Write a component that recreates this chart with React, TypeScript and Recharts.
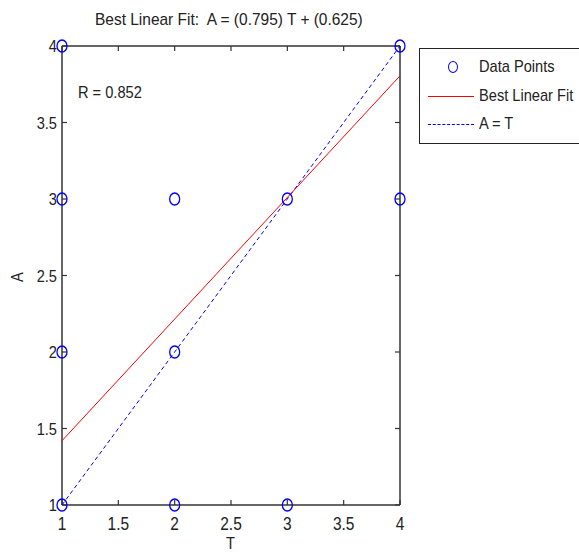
import { ComposedChart, Scatter, XAxis, YAxis } from "recharts";

const tTicks = [1, 1.5, 2, 2.5, 3, 3.5, 4];
const aTicks = [1, 1.5, 2, 2.5, 3, 3.5, 4];

// targets (T) and outputs (A)
const pointT = [1, 4, 1, 2, 3, 4, 1, 2, 1, 2, 3];
const pointA = [4, 4, 3, 3, 3, 3, 2, 2, 1, 1, 1];

const fitT = [1, 4];
const fitA = [1.42, 3.805];

const idT = [1, 4];
const idA = [1, 4];

const points = pointT.map((t, i) => ({ T: t, A: pointA[i] }));
const fit = fitT.map((t, i) => ({ T: t, A: fitA[i] }));
const ident = idT.map((t, i) => ({ T: t, A: idA[i] }));

// tick anchors on the four sides of the box
const bottomMarks = tTicks.map((t) => ({ T: t, A: aTicks[0] }));
const topMarks = tTicks.map((t) => ({ T: t, A: aTicks[aTicks.length - 1] }));
const leftMarks = aTicks.map((a) => ({ T: tTicks[0], A: a }));
const rightMarks = aTicks.map((a) => ({ T: tTicks[tTicks.length - 1], A: a }));

const FONT = '"Liberation Sans", Arial, sans-serif';
const AXIS = "#333";
const INK = "#222";
const SX = 0.86;
const TICK = 5;

const Ring = (props: any) => {
  const { cx, cy } = props;
  return <ellipse cx={cx} cy={cy} rx={5} ry={6} fill="none" stroke="#0000ff" strokeWidth={1.3} />;
};
const Nothing = () => null;

// inward tick marks, MATLAB style
const mark = (dx: number, dy: number) => (props: any) => {
  const { cx, cy } = props;
  return <line x1={cx} y1={cy} x2={cx + dx} y2={cy + dy} stroke={AXIS} strokeWidth={1.2} />;
};
const UpMark = mark(0, -TICK);
const DownMark = mark(0, TICK);
const RightMark = mark(TICK, 0);
const LeftMark = mark(-TICK, 0);

const BottomTick = (props: any) => {
  const { x, y, payload } = props;
  return (
    <text transform={`translate(${x},${y}) scale(${SX},1)`} textAnchor="middle" dy="0.72em"
      fontSize={18} fill={INK} fontFamily={FONT}>
      {payload.value}
    </text>
  );
};
const LeftTick = (props: any) => {
  const { x, y, payload } = props;
  return (
    <text transform={`translate(${x},${y}) scale(${SX},1)`} textAnchor="end" dy="0.36em"
      fontSize={17} fill={INK} fontFamily={FONT}>
      {payload.value}
    </text>
  );
};

const txt = (extra: any, sx = SX) => ({
  position: "absolute" as const,
  fontSize: 17,
  whiteSpace: "pre" as const,
  transformOrigin: "left center",
  transform: `scaleX(${sx})`,
  ...extra,
});

export default function App() {
  return (
    <div style={{ position: "absolute", left: 0, top: 0, width: 579, height: 553, overflow: "hidden", background: "#fff", fontFamily: FONT, color: INK, lineHeight: "20px" }}>
      <ComposedChart width={579} height={553} margin={{ top: 45, right: 178, bottom: 18, left: 12 }}>
        <XAxis xAxisId="b" type="number" dataKey="T" domain={[1, 4]} ticks={tTicks} interval={0}
          height={30} tickSize={0} tickLine={false} tickMargin={12} stroke={AXIS} strokeWidth={1.5} tick={<BottomTick />} />
        <XAxis xAxisId="t" type="number" dataKey="T" orientation="top" domain={[1, 4]} ticks={tTicks} interval={0}
          height={1} tickLine={false} tick={false} stroke={AXIS} strokeWidth={1.5} />
        <YAxis yAxisId="l" type="number" dataKey="A" domain={[1, 4]} ticks={aTicks} interval={0}
          width={50} tickSize={0} tickLine={false} tickMargin={5} stroke={AXIS} strokeWidth={1.5} tick={<LeftTick />} />
        <YAxis yAxisId="r" type="number" dataKey="A" orientation="right" domain={[1, 4]} ticks={aTicks} interval={0}
          width={1} tickLine={false} tick={false} stroke={AXIS} strokeWidth={1.5} />
        <Scatter xAxisId="b" yAxisId="l" data={bottomMarks} shape={UpMark} isAnimationActive={false} />
        <Scatter xAxisId="b" yAxisId="l" data={topMarks} shape={DownMark} isAnimationActive={false} />
        <Scatter xAxisId="b" yAxisId="l" data={leftMarks} shape={RightMark} isAnimationActive={false} />
        <Scatter xAxisId="b" yAxisId="l" data={rightMarks} shape={LeftMark} isAnimationActive={false} />
        <Scatter xAxisId="b" yAxisId="l" data={ident} line={{ stroke: "#0000ff", strokeWidth: 1, strokeDasharray: "4 3" }}
          shape={Nothing} isAnimationActive={false} />
        <Scatter xAxisId="b" yAxisId="l" data={fit} line={{ stroke: "#ff0000", strokeWidth: 1 }}
          shape={Nothing} isAnimationActive={false} />
        <Scatter xAxisId="b" yAxisId="l" data={points} shape={Ring} isAnimationActive={false} />
      </ComposedChart>

      <div style={txt({ left: 95, top: 10 }, 0.91)}>{"Best Linear Fit:  A = (0.795) T + (0.625)"}</div>
      <div style={txt({ left: 78, top: 83 })}>R = 0.852</div>
      <div style={txt({ left: 226, top: 534 })}>T</div>
      <div style={{ position: "absolute", left: 12, top: 267, fontSize: 17, lineHeight: "20px", transform: `rotate(-90deg) scaleX(${SX})` }}>A</div>

      <div style={{ position: "absolute", left: 419, top: 48, width: 170, height: 94, border: "1px solid #222", background: "#fff" }}>
        <div style={{ position: "absolute", left: 28, top: 12, width: 10, height: 12, border: "1.3px solid #0000ff", borderRadius: "50%", boxSizing: "border-box" }} />
        <div style={txt({ left: 59, top: 8 })}>Data Points</div>
        <div style={{ position: "absolute", left: 8, top: 47, width: 46, borderTop: "1px solid #ff0000" }} />
        <div style={txt({ left: 59, top: 37 })}>Best Linear Fit</div>
        <div style={{ position: "absolute", left: 8, top: 75, width: 46, borderTop: "1px dashed #0000ff" }} />
        <div style={txt({ left: 59, top: 65 })}>A = T</div>
      </div>
    </div>
  );
}
